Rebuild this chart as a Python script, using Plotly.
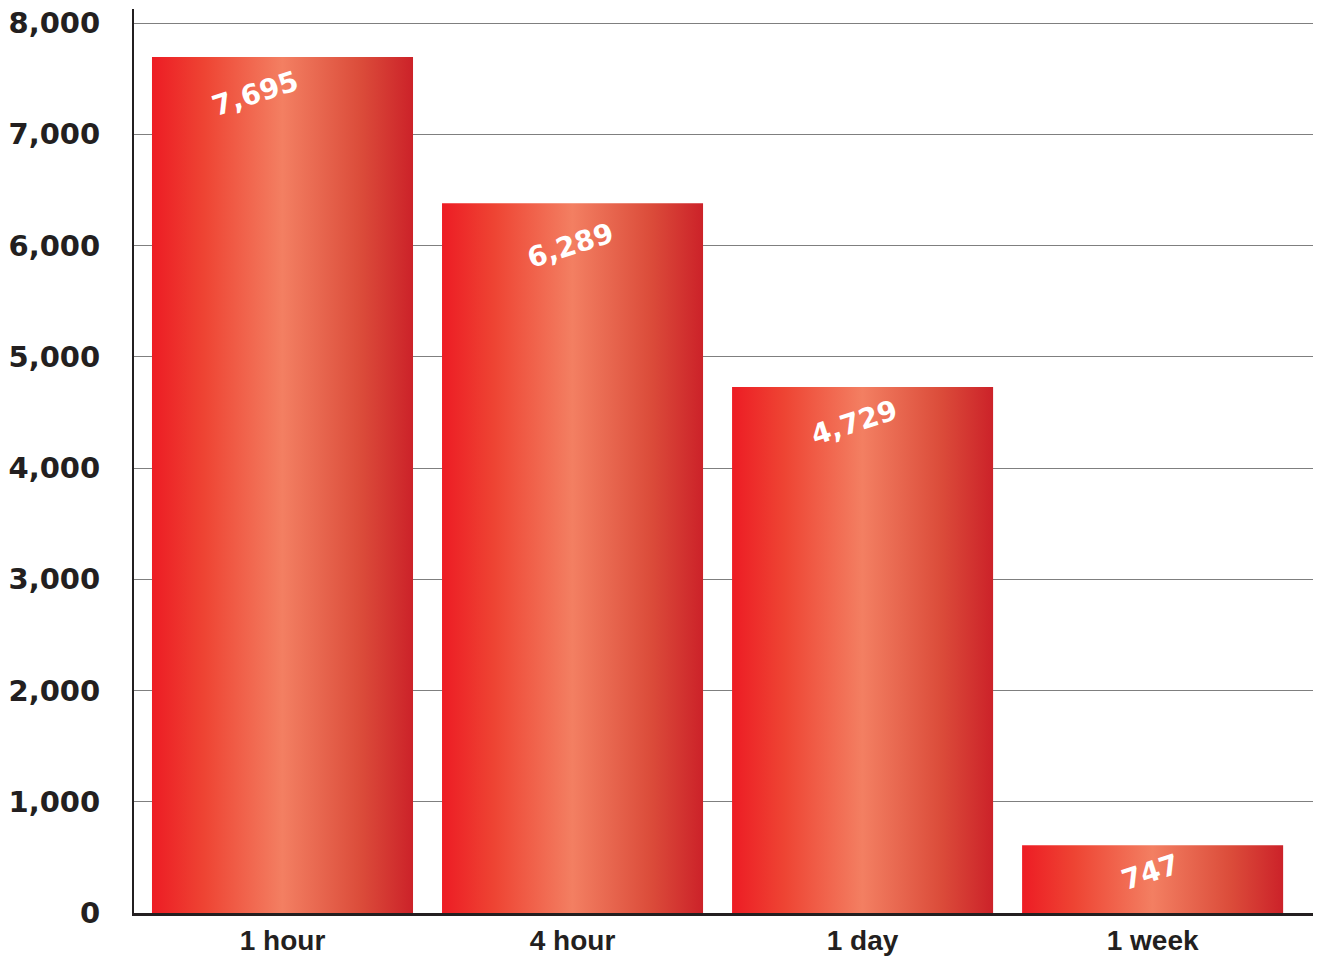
import plotly.graph_objects as go

categories = ["1 hour", "4 hour", "1 day", "1 week"]
bar_heights = [7695, 6380, 4729, 610]
value_labels = ["7,695", "6,289", "4,729", "747"]
y_tick_values = [0, 1000, 2000, 3000, 4000, 5000, 6000, 7000, 8000]
y_tick_labels = ["0", "1,000", "2,000", "3,000", "4,000", "5,000", "6,000", "7,000", "8,000"]

label_xshift = [-27, -2, -8, -3]
label_yshift = [-37, -42, -36, -27]

gradient = [
    [0.0, "#ED1C24"],
    [0.2, "#EE4433"],
    [0.5, "#F37F62"],
    [0.8, "#DB4C3A"],
    [1.0, "#CC2229"],
]

DARK = "#231F20"
half = 0.45

fig = go.Figure()
for i, (cat, h) in enumerate(zip(categories, bar_heights)):
    fig.add_trace(go.Scatter(
        x=[i - half, i - half, i + half, i + half, i - half],
        y=[0, h, h, 0, 0],
        mode="lines",
        line=dict(width=0),
        fill="toself",
        fillgradient=dict(type="horizontal", colorscale=gradient),
        name=cat,
        hoverinfo="skip",
        showlegend=False,
    ))

for i, (h, lab) in enumerate(zip(bar_heights, value_labels)):
    fig.add_annotation(
        x=i, y=h, text=f"<b>{lab}</b>", showarrow=False,
        textangle=-18, xshift=label_xshift[i], yshift=label_yshift[i],
        font=dict(family="DejaVu Sans", size=28, color="white"),
        xanchor="center", yanchor="middle",
    )

fig.update_layout(
    width=1319, height=959,
    margin=dict(l=134, r=6, t=9, b=46),
    plot_bgcolor="white", paper_bgcolor="white",
    xaxis=dict(
        range=[-0.512, 3.553],
        tickmode="array", tickvals=list(range(len(categories))),
        ticktext=[f"<b>{c}</b>" for c in categories],
        tickfont=dict(family="Liberation Sans", size=28, color=DARK),
        showgrid=False, zeroline=False,
        showline=True, linecolor=DARK, linewidth=3,
        ticks="", ticklabelstandoff=0,
        automargin=False,
        fixedrange=True,
    ),
    yaxis=dict(
        range=[0, 8126],
        tickmode="array", tickvals=y_tick_values,
        ticktext=[f"<b>{t}</b>" for t in y_tick_labels],
        tickfont=dict(family="DejaVu Sans", size=29, color=DARK),
        showgrid=True, gridcolor="#7F7F7F", gridwidth=1,
        zeroline=False,
        showline=True, linecolor=DARK, linewidth=2,
        ticks="", ticklabelstandoff=26,
        automargin=False,
        fixedrange=True,
    ),
)

fig.write_html("out.html")
